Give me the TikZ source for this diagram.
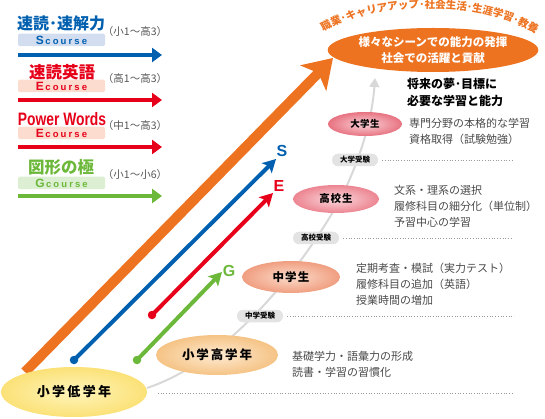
\documentclass[tikz,border=0pt]{standalone}
\usepackage{fontspec}
\setmainfont{Noto Sans CJK JP}
\newfontfamily\coursefont{Liberation Sans}
\usetikzlibrary{shapes.geometric,arrows.meta,decorations.text}
\definecolor{cOrange}{HTML}{ED7321}
\definecolor{cBlue}{HTML}{0060B0}
\definecolor{cRed}{HTML}{E60019}
\definecolor{cGreen}{HTML}{6CB83A}
\definecolor{cGrayT}{HTML}{555555}
\definecolor{cText}{HTML}{4A4A4A}
\definecolor{cCurve}{HTML}{D8D8D8}
\definecolor{cTag}{HTML}{E3E3E3}
\definecolor{cDot}{HTML}{9A9A9A}
\definecolor{bxBlue}{HTML}{D3DDF0}
\definecolor{bxRed}{HTML}{FBDCCF}
\definecolor{bxGreen}{HTML}{DCEFD2}
\definecolor{yIn}{HTML}{FFF5BC}
\definecolor{yOut}{HTML}{FBE177}
\definecolor{pIn}{HTML}{FEEBD3}
\definecolor{pOut}{HTML}{F5C385}
\definecolor{sIn}{HTML}{FBDCCB}
\definecolor{sOut}{HTML}{F09E80}
\definecolor{hIn}{HTML}{FBD9DD}
\definecolor{hOut}{HTML}{EC8591}
\definecolor{uIn}{HTML}{F9D2D8}
\definecolor{uOut}{HTML}{E87381}
\newcommand{\coursetxt}[1]{{\coursefont\bfseries\fontsize{12}{10}\selectfont #1}\hspace{1.5pt}{\coursefont\bfseries\fontsize{9.5}{10}\selectfont\addfontfeature{LetterSpace=22}course}}
\begin{document}
\begin{tikzpicture}[x=1pt,y=-1pt,
  legtitle/.style={inner sep=0, font=\fontsize{16.5}{17}\selectfont\bfseries},
  legbox/.style={inner sep=0, minimum width=87pt, minimum height=12.5pt, rounded corners=1.5pt},
  legrange/.style={inner sep=0, text=cGrayT, font=\fontsize{10.5}{10}\selectfont},
  legarrow/.style={line width=3.5pt, -{Triangle[length=10pt,width=14pt]}},
  diagarrow/.style={line width=4pt, -{Stealth[length=13pt,width=14pt,inset=3pt]}},
  startdot/.style={circle, inner sep=0, minimum size=8.5pt},
  stagebox/.style={ellipse, inner sep=0},
  tagbox/.style={fill=cTag, rounded corners=6pt, inner sep=0, minimum width=46pt, minimum height=12.5pt, font=\fontsize{7.5}{7.5}\selectfont\bfseries},
  dotline/.style={cDot, line width=0.7pt, dotted},
  desctext/.style={inner sep=0, anchor=west, align=left, text=cText, font=\fontsize{11}{16}\selectfont},
  letterlab/.style={inner sep=0, font=\coursefont\bfseries\fontsize{16}{16}\selectfont},
]
\useasboundingbox (0,0) rectangle (545,419);

% ---------- legend ----------
\node[legtitle, text=cBlue, font=\fontsize{16}{17}\selectfont\bfseries] (t1) at (61,23) {速読･速解力};
\node[legbox, fill=bxBlue, text=cBlue] (b1) at (61.5,40) {\coursetxt{S}};
\node[legrange] (r1) at (135,32) {（小1〜高3）};
\coordinate (a1s) at (18,55); \coordinate (a1e) at (162,55);
\draw[legarrow, cBlue] (a1s) -- (a1e);

\node[legtitle, text=cRed] (t2) at (62,72) {速読英語};
\node[legbox, fill=bxRed, text=cRed] (b2) at (61.5,86) {\coursetxt{E}};
\node[legrange] (r2) at (135,79) {（高1〜高3）};
\coordinate (a2s) at (18,100); \coordinate (a2e) at (162,100);
\draw[legarrow, cRed] (a2s) -- (a2e);

\node[legtitle, text=cRed, font=\coursefont\bfseries\fontsize{18}{18}\selectfont] (t3) at (62,119) {\scalebox{0.77}[1]{Power Words}};
\node[legbox, fill=bxRed, text=cRed] (b3) at (61.5,133) {\coursetxt{E}};
\node[legrange] (r3) at (135,126) {（中1〜高3）};
\coordinate (a3s) at (18,147); \coordinate (a3e) at (162,147);
\draw[legarrow, cRed] (a3s) -- (a3e);

\node[legtitle, text=cGreen] (t4) at (61,167) {図形の極};
\node[legbox, fill=bxGreen, text=cGreen] (b4) at (61.5,183) {\coursetxt{G}};
\node[legrange] (r4) at (135,175) {（小1〜小6）};
\coordinate (a4s) at (18,196); \coordinate (a4e) at (162,196);
\draw[legarrow, cGreen] (a4s) -- (a4e);

% ---------- gray growth curve ----------
\coordinate (cs) at (147,388);
\coordinate (cm) at (340,200);
\coordinate (ce) at (375,78);
\draw[cCurve, line width=2pt, -{Triangle[length=9pt,width=10pt]}] (cs) .. controls (230,360) and (300,270) .. (cm) .. controls (360,160) and (372,120) .. (ce);

% ---------- big orange arrow ----------
\coordinate (os) at (25,372);
\coordinate (ot) at (333,58);
\draw[cOrange, line width=10pt, -{Stealth[length=28pt,width=36pt,inset=7pt]}] (os) -- (ot);

% ---------- course arrows ----------
\node[startdot, fill=cBlue] (bd) at (74,360) {};
\coordinate (bt) at (276,159);
\draw[diagarrow, cBlue] (bd.center) -- (bt);
\node[letterlab, text=cBlue] (lS) at (282,151) {S};

\node[startdot, fill=cRed] (rd) at (152,315) {};
\coordinate (rt) at (273,193);
\draw[diagarrow, cRed] (rd.center) -- (rt);
\node[letterlab, text=cRed] (lE) at (279,186) {E};

\node[startdot, fill=cGreen] (gd) at (137,360) {};
\coordinate (gt) at (222,272);
\draw[diagarrow, cGreen] (gd.center) -- (gt);
\node[letterlab, text=cGreen] (lG) at (229,271) {G};

% ---------- goal ----------
\node[ellipse, fill=cOrange, inner sep=0, minimum width=210pt, minimum height=44pt, text=white, align=center, font=\fontsize{11.5}{16}\selectfont\bfseries] (goal) at (433,50) {様々なシーンでの能力の発揮\\社会での活躍と貢献};
\coordinate (arcL) at (318,35); \coordinate (arcR) at (541,37);
\path[decorate, decoration={text along path, text align=center, text color=cOrange, text={|\fontsize{10.5}{11}\selectfont\bfseries|職業･キャリアアップ･社会生活･生涯学習･教養}}] (arcL) .. controls (372,-1) and (486,-1) .. (arcR);

% ---------- stages ----------
\node[stagebox, minimum width=146pt, minimum height=50pt, inner color=yIn, outer color=yOut, font=\fontsize{13}{13}\selectfont\bfseries\addfontfeature{LetterSpace=18}] (s1) at (74,392) {小学低学年};
\node[stagebox, minimum width=122pt, minimum height=40pt, inner color=pIn, outer color=pOut, font=\fontsize{12.5}{13}\selectfont\bfseries\addfontfeature{LetterSpace=15}] (s2) at (217,355) {小学高学年};
\node[stagebox, minimum width=98pt, minimum height=32pt, inner color=sIn, outer color=sOut, font=\fontsize{11.5}{12}\selectfont\bfseries\addfontfeature{LetterSpace=10}] (s3) at (291,277) {中学生};
\node[stagebox, minimum width=86pt, minimum height=28pt, inner color=hIn, outer color=hOut, font=\fontsize{10.5}{11}\selectfont\bfseries\addfontfeature{LetterSpace=8}] (s4) at (336,199) {高校生};
\node[stagebox, minimum width=74pt, minimum height=24pt, inner color=uIn, outer color=uOut, font=\fontsize{9.5}{10}\selectfont\bfseries\addfontfeature{LetterSpace=5}] (s5) at (365,124) {大学生};

% ---------- exam tags and dotted lines ----------
\node[tagbox] (k3) at (355,160) {大学受験};
\node[tagbox] (k2) at (316,238) {高校受験};
\node[tagbox] (k1) at (260,316) {中学受験};
\coordinate (e3) at (513,160);
\coordinate (e2) at (513,238);
\coordinate (e1) at (514,316);
\coordinate (e0s) at (158,393);
\coordinate (e0) at (513,393);
\draw[dotline] ([xshift=4pt]k3.east) -- (e3);
\draw[dotline] ([xshift=4pt]k2.east) -- (e2);
\draw[dotline] ([xshift=4pt]k1.east) -- (e1);
\draw[dotline] (e0s) -- (e0);

% ---------- descriptions ----------
\node[inner sep=0, anchor=west, align=left, font=\fontsize{12}{17}\selectfont\bfseries] (head) at (407,92.5) {将来の夢･目標に\\必要な学習と能力};
\node[desctext] (d5) at (409,131) {専門分野の本格的な学習\\資格取得（試験勉強）};
\node[desctext] (d4) at (394,206) {文系・理系の選択\\履修科目の細分化（単位制）\\予習中心の学習};
\node[desctext] (d3) at (356,284.5) {定期考査・模試（実力テスト）\\履修科目の追加（英語）\\授業時間の増加};
\node[desctext] (d2) at (292,364) {基礎学力・語彙力の形成\\読書・学習の習慣化};
\end{tikzpicture}
\end{document}
